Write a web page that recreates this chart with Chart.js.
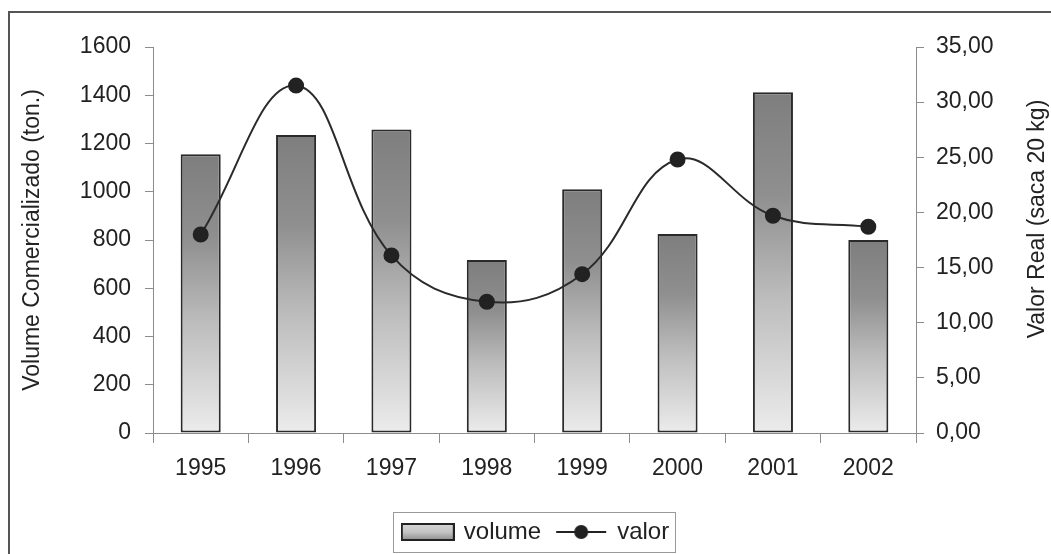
<!DOCTYPE html>
<html>
<head>
<meta charset="utf-8">
<script src="https://cdn.jsdelivr.net/npm/chart.js@4.4.1/dist/chart.umd.min.js"></script>
<style>
html, body { margin: 0; padding: 0; background: #fff; }
</style>
</head>
<body>
<canvas id="grafico" width="1051" height="554"></canvas>
<script>
// dados
const anos = ['1995', '1996', '1997', '1998', '1999', '2000', '2001', '2002'];
const volume = [1155, 1235, 1258, 717, 1010, 825, 1412, 800];
const valor = [18.0, 31.5, 16.1, 11.9, 14.4, 24.8, 19.7, 18.7];
const eixoVolume = [0, 1600, 200];   // min, max, passo
const eixoValor = [0, 35, 5];
const tituloDireita = 'Valor Real (saca 20 kg)';

const fonte = 'Liberation Sans, Arial, sans-serif';
const corTexto = '#222';
const corEixo = '#8c8c8c';

// gradiente de cada barra, do topo da barra até o zero
function corBarra(ctx) {
    const chart = ctx.chart;
    if (!chart.chartArea || ctx.type !== 'data') return '#aaa';
    const y = chart.scales.y;
    const topo = y.getPixelForValue(ctx.raw);
    const base = y.getPixelForValue(0);
    const g = chart.ctx.createLinearGradient(0, topo, 0, base);
    g.addColorStop(0, '#7e7e7e');
    g.addColorStop(0.3, '#8f8f8f');
    g.addColorStop(0.6, '#bcbcbc');
    g.addColorStop(1, '#ececec');
    return g;
}

function iconeVolume() {
    const c = document.createElement('canvas');
    c.width = 54; c.height = 18;
    const x = c.getContext('2d');
    const g = x.createLinearGradient(0, 0, 0, 18);
    g.addColorStop(0, '#d8d8d8');
    g.addColorStop(0.5, '#c4c4c4');
    g.addColorStop(1, '#8a8a8a');
    x.fillStyle = g;
    x.fillRect(1, 1, 52, 16);
    x.strokeStyle = '#222';
    x.lineWidth = 2;
    x.strokeRect(1, 1, 52, 16);
    return c;
}

function iconeValor() {
    const c = document.createElement('canvas');
    c.width = 52; c.height = 18;
    const x = c.getContext('2d');
    x.strokeStyle = '#222';
    x.lineWidth = 2;
    x.beginPath(); x.moveTo(1, 9); x.lineTo(51, 9); x.stroke();
    x.fillStyle = '#222';
    x.beginPath(); x.arc(26, 9, 7, 0, Math.PI * 2); x.fill();
    return c;
}

const moldura = {
    id: 'moldura',
    beforeDraw(chart) {
        const c = chart.ctx;
        c.save();
        c.fillStyle = '#fff';
        c.fillRect(0, 0, chart.width, chart.height);
        c.strokeStyle = '#555';
        c.lineWidth = 2;
        c.beginPath();
        c.moveTo(9, chart.height);
        c.lineTo(9, 12);
        c.lineTo(chart.width, 12);
        c.stroke();
        c.restore();
    },
    afterDraw(chart) {
        const c = chart.ctx;
        // título do eixo da direita, lido de baixo para cima
        const y1 = chart.scales.y1;
        c.save();
        c.fillStyle = corTexto;
        c.font = '23px ' + fonte;
        c.textAlign = 'center';
        c.textBaseline = 'middle';
        c.translate(y1.right - 13, chart.chartArea.top + 172);
        c.rotate(-Math.PI / 2);
        c.fillText(tituloDireita, 0, 0);
        c.restore();

        // caixa da legenda
        const caixas = chart.legend.legendHitBoxes;
        if (!caixas || !caixas.length) return;
        let esq = Infinity, dir = -Infinity, topo = Infinity, base = -Infinity;
        caixas.forEach(b => {
            esq = Math.min(esq, b.left);
            dir = Math.max(dir, b.left + b.width);
            topo = Math.min(topo, b.top);
            base = Math.max(base, b.top + b.height);
        });
        c.save();
        c.strokeStyle = '#999';
        c.lineWidth = 1;
        c.strokeRect(Math.round(esq - 11) + 0.5, Math.round(topo - 8) + 0.5, Math.round(dir - esq + 17), Math.round(base - topo + 16));
        c.restore();
    }
};

new Chart(document.getElementById('grafico').getContext('2d'), {
    type: 'bar',
    data: {
        labels: anos,
        datasets: [
            {
                type: 'bar',
                label: 'volume',
                data: volume,
                yAxisID: 'y',
                backgroundColor: corBarra,
                borderColor: '#2a2a2a',
                borderWidth: 2,
                borderSkipped: false,
                categoryPercentage: 1,
                barPercentage: 0.42,
                order: 1,
            },
            {
                type: 'line',
                label: 'valor',
                data: valor,
                yAxisID: 'y1',
                borderColor: '#2a2a2a',
                borderWidth: 2,
                tension: 0.4,
                pointRadius: 7,
                pointBackgroundColor: '#222',
                pointBorderColor: '#222',
                order: 0,
            },
        ],
    },
    options: {
        responsive: false,
        animation: false,
        devicePixelRatio: 1,
        layout: { padding: { top: 47, left: 22, right: 0, bottom: 0 } },
        plugins: {
            tooltip: { enabled: false },
            legend: {
                display: true,
                position: 'bottom',
                labels: {
                    usePointStyle: true,
                    pointStyleWidth: 48,
                    padding: 16,
                    color: corTexto,
                    font: { family: fonte, size: 24 },
                    generateLabels: () => [
                        { text: 'volume', pointStyle: iconeVolume(), datasetIndex: 0, fontColor: corTexto, lineWidth: 0 },
                        { text: 'valor', pointStyle: iconeValor(), datasetIndex: 1, fontColor: corTexto, lineWidth: 0 },
                    ],
                },
            },
        },
        scales: {
            x: {
                grid: { display: true, drawOnChartArea: false, offset: true, color: corEixo, tickLength: 10 },
                border: { color: corEixo },
                ticks: { color: corTexto, font: { family: fonte, size: 23 }, padding: 12, maxRotation: 0 },
                afterFit: (s) => { s.height = 71; },
            },
            y: {
                position: 'left',
                min: eixoVolume[0],
                max: eixoVolume[1],
                ticks: {
                    stepSize: eixoVolume[2],
                    color: corTexto,
                    font: { family: fonte, size: 23 },
                    padding: 14,
                    callback: (v) => String(v),
                },
                grid: { drawOnChartArea: false, color: corEixo, tickLength: 8 },
                border: { color: corEixo },
                title: { display: true, text: 'Volume Comercializado (ton.)', color: corTexto, font: { family: fonte, size: 23 }, padding: { top: -3, bottom: 0 } },
                afterFit: (s) => { s.width = 131; },
            },
            y1: {
                position: 'right',
                min: eixoValor[0],
                max: eixoValor[1],
                ticks: {
                    stepSize: eixoValor[2],
                    color: corTexto,
                    font: { family: fonte, size: 23 },
                    padding: 12,
                    callback: (v) => v.toFixed(2).replace('.', ','),
                },
                grid: { drawOnChartArea: false, color: corEixo, tickLength: 8 },
                border: { color: corEixo },
                afterFit: (s) => { s.width = 135; },
            },
        },
    },
    plugins: [moldura],
});
</script>
</body>
</html>
